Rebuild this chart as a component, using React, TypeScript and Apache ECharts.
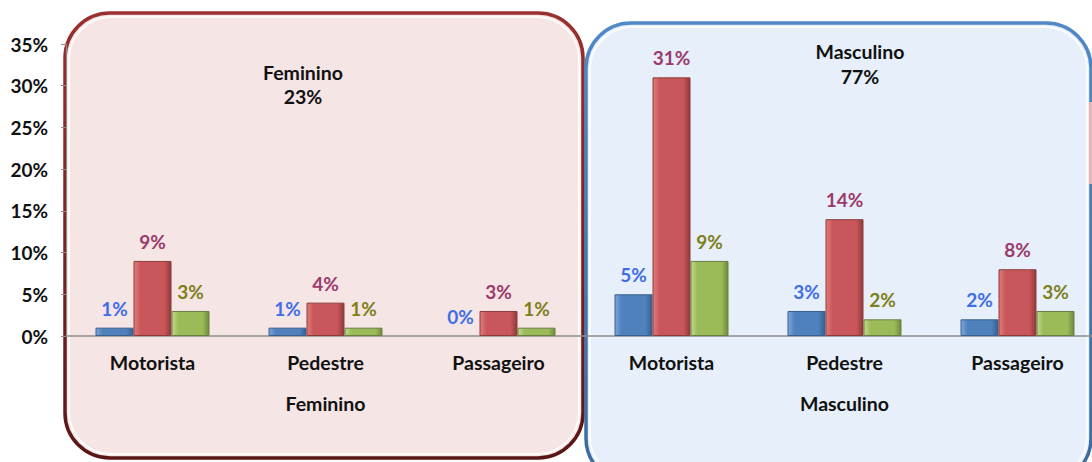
import React, { useEffect, useRef } from "react";
import * as echarts from "echarts";

const categories = ["Motorista", "Pedestre", "Passageiro", "Motorista", "Pedestre", "Passageiro"];
const groups = ["Feminino", "Masculino"];
const serieAzul = [1, 1, 0, 5, 3, 2];
const serieVermelha = [9, 4, 3, 31, 14, 8];
const serieVerde = [3, 1, 1, 9, 2, 3];
const yTicks = { min: 0, max: 35, interval: 5 };
const shares = ["23%", "77%"];

const FONT = "Lato, 'Open Sans', sans-serif";

function grad(light: string, base: string, dark: string) {
  return new echarts.graphic.LinearGradient(0, 0, 1, 0, [
    { offset: 0, color: light },
    { offset: 0.18, color: base },
    { offset: 0.82, color: base },
    { offset: 1, color: dark },
  ]);
}

function vgrad(top: string, bottom: string) {
  return new echarts.graphic.LinearGradient(0, 0, 0, 1, [
    { offset: 0, color: top },
    { offset: 1, color: bottom },
  ]);
}

export default function App() {
  const ref = useRef<HTMLDivElement>(null);
  useEffect(() => {
    if (!ref.current) return;
    const chart = echarts.init(ref.current, null, { renderer: "svg" });
    const mkSeries = (name: string, data: number[], fill: any, border: string, labelColor: string) => ({
      name,
      type: "bar",
      data: data.map((v) =>
        v === 0 ? { value: v, itemStyle: { borderWidth: 0, color: "rgba(0,0,0,0)" } } : v
      ),
      barWidth: 38,
      barGap: "0%",
      z: 5,
      itemStyle: { color: fill, borderColor: border, borderWidth: 1 },
      label: {
        show: true,
        position: "top",
        distance: 10,
        formatter: "{c}%",
        color: labelColor,
        fontFamily: FONT,
        fontWeight: "bold",
        fontSize: 19,
      },
    });
    chart.setOption({
      animation: false,
      backgroundColor: "#ffffff",
      grid: { left: 66, right: 0, top: 44, bottom: 126, containLabel: false },
      xAxis: [
        {
          type: "category",
          data: categories,
          axisLine: { show: true, lineStyle: { color: "#8c8c8c", width: 1.5 } },
          axisTick: { show: false },
          axisLabel: { color: "#111", fontFamily: FONT, fontWeight: "bold", fontSize: 19.5, margin: 16 },
        },
        {
          type: "category",
          data: groups,
          position: "bottom",
          offset: 50,
          axisLine: { show: false },
          axisTick: { show: false },
          axisLabel: { color: "#111", fontFamily: FONT, fontWeight: "bold", fontSize: 19.5, margin: 7 },
        },
      ],
      yAxis: {
        type: "value",
        min: yTicks.min,
        max: yTicks.max,
        interval: yTicks.interval,
        axisLine: { show: true, lineStyle: { color: "#8c8c8c", width: 1 } },
        axisTick: { show: true, length: 5, lineStyle: { color: "#8c8c8c" } },
        splitLine: { show: false },
        axisLabel: {
          formatter: "{value}%",
          color: "#111",
          fontFamily: FONT,
          fontWeight: "bold",
          fontSize: 19,
          margin: 18,
        },
      },
      graphic: [
        {
          type: "rect",
          z: -10,
          shape: { x: 65, y: 13, width: 518, height: 445, r: 45 },
          style: { fill: "#f5e5e5", stroke: vgrad("#9a3030", "#5a1616"), lineWidth: 3.5 },
        },
        {
          type: "rect",
          z: -9,
          shape: { x: 69, y: 17, width: 510, height: 437, r: 42 },
          style: { fill: "none", stroke: "#ffffff", lineWidth: 2, opacity: 0.8 },
        },
        {
          type: "rect",
          z: -10,
          shape: { x: 586, y: 23, width: 505, height: 460, r: 45 },
          style: { fill: "#e6effa", stroke: vgrad("#5088c8", "#3a6aa0"), lineWidth: 3.5 },
        },
        {
          type: "rect",
          z: -9,
          shape: { x: 590, y: 27, width: 497, height: 452, r: 42 },
          style: { fill: "none", stroke: "#ffffff", lineWidth: 2, opacity: 0.8 },
        },
        {
          type: "rect",
          z: -8,
          shape: { x: 1089, y: 102, width: 3, height: 82 },
          style: { fill: "#e8b4b4" },
        },
        {
          type: "text",
          z: 100,
          x: 303,
          y: 84,
          style: {
            text: groups[0] + "\n" + shares[0],
            fill: "#111",
            font: "bold 19.5px " + FONT,
            textAlign: "center",
            textVerticalAlign: "middle",
            lineHeight: 24,
          },
        },
        {
          type: "text",
          z: 100,
          x: 860,
          y: 64,
          style: {
            text: groups[1] + "\n" + shares[1],
            fill: "#111",
            font: "bold 19.5px " + FONT,
            textAlign: "center",
            textVerticalAlign: "middle",
            lineHeight: 25,
          },
        },
      ],
      series: [
        mkSeries("Série 1", serieAzul, grad("#7ea6dc", "#4f81bd", "#35608f"), "#3a5f8c", "#3f6ee6"),
        mkSeries("Série 2", serieVermelha, grad("#e07d7b", "#c9565a", "#8f3a3a"), "#8c3b3b", "#9c3a6c"),
        mkSeries("Série 3", serieVerde, grad("#c2d98c", "#9bbb59", "#6f8a3c"), "#6a7f40", "#7f7f1a"),
      ],
    });
    return () => chart.dispose();
  }, []);
  return (
    <div style={{ width: 1092, height: 462, position: "absolute", left: 0, top: 0, overflow: "hidden" }}>
      <div ref={ref} style={{ width: 1104, height: 462 }} />
    </div>
  );
}
